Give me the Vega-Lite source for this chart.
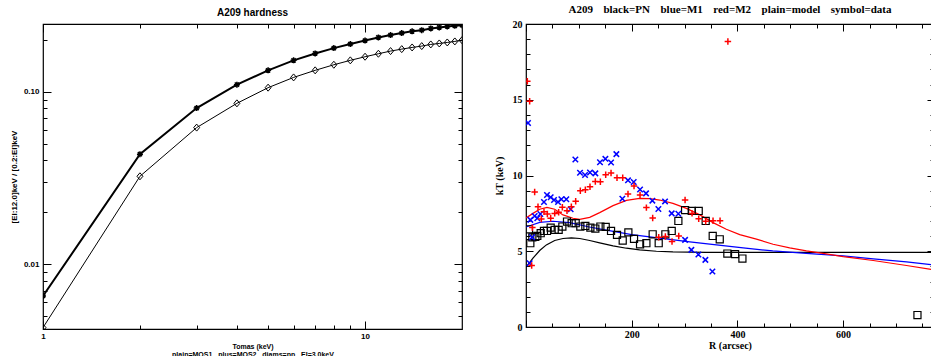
{
  "$schema": "https://vega.github.io/schema/vega-lite/v6.json",
  "background": "white",
  "padding": {"left": 9, "top": 3, "right": 0, "bottom": 0},
  "spacing": 27,
  "config": {
    "view": {"stroke": "black", "strokeWidth": 1.2},
    "axis": {"grid": false, "domain": false, "tickColor": "black", "tickWidth": 1, "labelColor": "black", "titleColor": "black", "labelFlush": false, "labelOverlap": false, "minExtent": 0}
  },
  "datasets": {
    "hard": [
      {"T": 1, "r": 0.00653, "s": "MOS"}, {"T": 2, "r": 0.0434, "s": "MOS"}, {"T": 3, "r": 0.0804, "s": "MOS"}, {"T": 4, "r": 0.1098, "s": "MOS"}, {"T": 5, "r": 0.133, "s": "MOS"},
      {"T": 6, "r": 0.152, "s": "MOS"}, {"T": 7, "r": 0.1667, "s": "MOS"}, {"T": 8, "r": 0.179, "s": "MOS"}, {"T": 9, "r": 0.189, "s": "MOS"}, {"T": 10, "r": 0.198, "s": "MOS"},
      {"T": 11, "r": 0.2065, "s": "MOS"}, {"T": 12, "r": 0.213, "s": "MOS"}, {"T": 13, "r": 0.219, "s": "MOS"}, {"T": 14, "r": 0.224, "s": "MOS"}, {"T": 15, "r": 0.2275, "s": "MOS"},
      {"T": 16, "r": 0.2328, "s": "MOS"}, {"T": 17, "r": 0.2359, "s": "MOS"}, {"T": 18, "r": 0.239, "s": "MOS"}, {"T": 19, "r": 0.241, "s": "MOS"}, {"T": 20, "r": 0.243, "s": "MOS"},
      {"T": 1, "r": 0.00428, "s": "pn"}, {"T": 2, "r": 0.0323, "s": "pn"}, {"T": 3, "r": 0.0619, "s": "pn"}, {"T": 4, "r": 0.0856, "s": "pn"}, {"T": 5, "r": 0.1055, "s": "pn"},
      {"T": 6, "r": 0.121, "s": "pn"}, {"T": 7, "r": 0.133, "s": "pn"}, {"T": 8, "r": 0.1433, "s": "pn"}, {"T": 9, "r": 0.152, "s": "pn"}, {"T": 10, "r": 0.1595, "s": "pn"},
      {"T": 11, "r": 0.166, "s": "pn"}, {"T": 12, "r": 0.172, "s": "pn"}, {"T": 13, "r": 0.1766, "s": "pn"}, {"T": 14, "r": 0.1806, "s": "pn"}, {"T": 15, "r": 0.1839, "s": "pn"},
      {"T": 16, "r": 0.188, "s": "pn"}, {"T": 17, "r": 0.1905, "s": "pn"}, {"T": 18, "r": 0.193, "s": "pn"}, {"T": 19, "r": 0.1957, "s": "pn"}, {"T": 20, "r": 0.199, "s": "pn"}
    ],
    "model": [
      {"R": 0, "kT": 3.95, "d": "PN"}, {"R": 13.2, "kT": 4.54, "d": "PN"}, {"R": 25.9, "kT": 5.05, "d": "PN"}, {"R": 38.5, "kT": 5.42, "d": "PN"}, {"R": 54.3, "kT": 5.71, "d": "PN"},
      {"R": 70, "kT": 5.84, "d": "PN"}, {"R": 85.8, "kT": 5.88, "d": "PN"}, {"R": 101.6, "kT": 5.84, "d": "PN"}, {"R": 120.5, "kT": 5.71, "d": "PN"}, {"R": 139.4, "kT": 5.55, "d": "PN"},
      {"R": 164.7, "kT": 5.35, "d": "PN"}, {"R": 190, "kT": 5.2, "d": "PN"}, {"R": 215, "kT": 5.09, "d": "PN"}, {"R": 246.7, "kT": 5.0, "d": "PN"}, {"R": 278, "kT": 4.96, "d": "PN"},
      {"R": 341, "kT": 4.93, "d": "PN"}, {"R": 400, "kT": 4.92, "d": "PN"}, {"R": 772, "kT": 4.92, "d": "PN"},
      {"R": 0, "kT": 6.6, "d": "M1"}, {"R": 26, "kT": 6.91, "d": "M1"}, {"R": 51, "kT": 6.98, "d": "M1"}, {"R": 82.6, "kT": 6.89, "d": "M1"}, {"R": 120, "kT": 6.6, "d": "M1"},
      {"R": 152, "kT": 6.4, "d": "M1"}, {"R": 200, "kT": 6.1, "d": "M1"}, {"R": 253, "kT": 5.87, "d": "M1"}, {"R": 310, "kT": 5.62, "d": "M1"}, {"R": 335, "kT": 5.52, "d": "M1"},
      {"R": 411, "kT": 5.22, "d": "M1"}, {"R": 467, "kT": 5.02, "d": "M1"}, {"R": 530, "kT": 4.86, "d": "M1"}, {"R": 600, "kT": 4.69, "d": "M1"}, {"R": 657, "kT": 4.5, "d": "M1"},
      {"R": 720, "kT": 4.3, "d": "M1"}, {"R": 772, "kT": 4.1, "d": "M1"},
      {"R": 0, "kT": 7.2, "d": "M2"}, {"R": 13.2, "kT": 7.5, "d": "M2"}, {"R": 25.9, "kT": 7.77, "d": "M2"}, {"R": 39.7, "kT": 7.9, "d": "M2"}, {"R": 54.3, "kT": 7.77, "d": "M2"},
      {"R": 70, "kT": 7.4, "d": "M2"}, {"R": 89, "kT": 7.18, "d": "M2"}, {"R": 101.6, "kT": 7.11, "d": "M2"}, {"R": 120.5, "kT": 7.24, "d": "M2"}, {"R": 139.4, "kT": 7.55, "d": "M2"},
      {"R": 164.7, "kT": 8.01, "d": "M2"}, {"R": 190, "kT": 8.36, "d": "M2"}, {"R": 215, "kT": 8.49, "d": "M2"}, {"R": 234, "kT": 8.47, "d": "M2"}, {"R": 253, "kT": 8.38, "d": "M2"},
      {"R": 278, "kT": 8.16, "d": "M2"}, {"R": 303.5, "kT": 7.83, "d": "M2"}, {"R": 329, "kT": 7.4, "d": "M2"}, {"R": 354, "kT": 6.89, "d": "M2"}, {"R": 379, "kT": 6.45, "d": "M2"},
      {"R": 404.4, "kT": 6.1, "d": "M2"}, {"R": 436, "kT": 5.8, "d": "M2"}, {"R": 467.5, "kT": 5.46, "d": "M2"}, {"R": 499, "kT": 5.22, "d": "M2"}, {"R": 530.6, "kT": 5.02, "d": "M2"},
      {"R": 562, "kT": 4.86, "d": "M2"}, {"R": 600, "kT": 4.65, "d": "M2"}, {"R": 657, "kT": 4.39, "d": "M2"}, {"R": 720, "kT": 4.06, "d": "M2"}, {"R": 772, "kT": 3.77, "d": "M2"}
    ],
    "obs": [
      {"R": 5.7, "kT": 6.45, "d": "PN"}, {"R": 8.2, "kT": 5.53, "d": "PN"}, {"R": 12, "kT": 5.92, "d": "PN"}, {"R": 17.7, "kT": 5.95, "d": "PN"}, {"R": 21.4, "kT": 6.01, "d": "PN"},
      {"R": 27.8, "kT": 6.19, "d": "PN"}, {"R": 34, "kT": 6.34, "d": "PN"}, {"R": 39.7, "kT": 6.34, "d": "PN"}, {"R": 46.7, "kT": 6.56, "d": "PN"}, {"R": 54.3, "kT": 6.41, "d": "PN"},
      {"R": 61.8, "kT": 6.41, "d": "PN"}, {"R": 68.8, "kT": 6.63, "d": "PN"}, {"R": 77.6, "kT": 6.96, "d": "PN"}, {"R": 86.4, "kT": 6.85, "d": "PN"}, {"R": 94, "kT": 6.85, "d": "PN"},
      {"R": 102.8, "kT": 6.63, "d": "PN"}, {"R": 112.3, "kT": 6.67, "d": "PN"}, {"R": 121.8, "kT": 6.56, "d": "PN"}, {"R": 131.2, "kT": 6.5, "d": "PN"}, {"R": 140.7, "kT": 6.63, "d": "PN"},
      {"R": 150.8, "kT": 6.61, "d": "PN"}, {"R": 160.9, "kT": 6.34, "d": "PN"}, {"R": 172.2, "kT": 6.08, "d": "PN"}, {"R": 183, "kT": 5.71, "d": "PN"}, {"R": 193.7, "kT": 6.25, "d": "PN"},
      {"R": 204.4, "kT": 5.82, "d": "PN"}, {"R": 215.8, "kT": 5.46, "d": "PN"}, {"R": 227.8, "kT": 5.53, "d": "PN"}, {"R": 239.7, "kT": 6.12, "d": "PN"}, {"R": 251.1, "kT": 5.53, "d": "PN"},
      {"R": 263.7, "kT": 6.12, "d": "PN"}, {"R": 275.7, "kT": 6.34, "d": "PN"}, {"R": 288.3, "kT": 7.0, "d": "PN"}, {"R": 301, "kT": 7.72, "d": "PN"}, {"R": 313.6, "kT": 7.66, "d": "PN"},
      {"R": 326.8, "kT": 7.66, "d": "PN"}, {"R": 340, "kT": 7.0, "d": "PN"}, {"R": 353.3, "kT": 6.01, "d": "PN"}, {"R": 366.6, "kT": 5.79, "d": "PN"}, {"R": 381, "kT": 4.85, "d": "PN"},
      {"R": 395.6, "kT": 4.81, "d": "PN"}, {"R": 409.5, "kT": 4.52, "d": "PN"}, {"R": 740.7, "kT": 0.79, "d": "PN"},
      {"R": 3.8, "kT": 13.47, "d": "M1"}, {"R": 6.9, "kT": 4.21, "d": "M1"}, {"R": 8.2, "kT": 7.07, "d": "M1"}, {"R": 11.4, "kT": 5.92, "d": "M1"}, {"R": 16.4, "kT": 7.33, "d": "M1"},
      {"R": 21.4, "kT": 7.18, "d": "M1"}, {"R": 27.1, "kT": 7.46, "d": "M1"}, {"R": 34, "kT": 8.25, "d": "M1"}, {"R": 39.7, "kT": 8.71, "d": "M1"}, {"R": 46.7, "kT": 8.56, "d": "M1"},
      {"R": 53, "kT": 8.38, "d": "M1"}, {"R": 60.6, "kT": 8.25, "d": "M1"}, {"R": 66.9, "kT": 8.43, "d": "M1"}, {"R": 76.3, "kT": 8.43, "d": "M1"}, {"R": 84.5, "kT": 7.77, "d": "M1"},
      {"R": 93.4, "kT": 11.06, "d": "M1"}, {"R": 102.2, "kT": 10.18, "d": "M1"}, {"R": 111.7, "kT": 10.03, "d": "M1"}, {"R": 121.1, "kT": 10.2, "d": "M1"}, {"R": 131.2, "kT": 10.14, "d": "M1"},
      {"R": 140, "kT": 10.88, "d": "M1"}, {"R": 150.2, "kT": 11.1, "d": "M1"}, {"R": 160.9, "kT": 10.86, "d": "M1"}, {"R": 171, "kT": 11.41, "d": "M1"}, {"R": 182.3, "kT": 8.47, "d": "M1"},
      {"R": 193, "kT": 9.68, "d": "M1"}, {"R": 203.8, "kT": 9.57, "d": "M1"}, {"R": 215.8, "kT": 9.08, "d": "M1"}, {"R": 227.1, "kT": 8.82, "d": "M1"}, {"R": 239.1, "kT": 8.34, "d": "M1"},
      {"R": 250.5, "kT": 7.79, "d": "M1"}, {"R": 263.1, "kT": 8.29, "d": "M1"}, {"R": 275.7, "kT": 7.5, "d": "M1"}, {"R": 288.3, "kT": 7.48, "d": "M1"}, {"R": 301, "kT": 5.75, "d": "M1"},
      {"R": 312.9, "kT": 5.09, "d": "M1"}, {"R": 326.2, "kT": 4.78, "d": "M1"}, {"R": 339.4, "kT": 4.43, "d": "M1"}, {"R": 352.7, "kT": 3.66, "d": "M1"},
      {"R": 2.5, "kT": 16.22, "d": "M2"}, {"R": 6.9, "kT": 14.9, "d": "M2"}, {"R": 10.7, "kT": 4.06, "d": "M2"}, {"R": 12, "kT": 6.56, "d": "M2"}, {"R": 16.4, "kT": 8.91, "d": "M2"},
      {"R": 22.7, "kT": 7.94, "d": "M2"}, {"R": 29, "kT": 7.13, "d": "M2"}, {"R": 34, "kT": 7.61, "d": "M2"}, {"R": 40.4, "kT": 7.46, "d": "M2"}, {"R": 46.7, "kT": 7.18, "d": "M2"},
      {"R": 54.3, "kT": 7.5, "d": "M2"}, {"R": 61.8, "kT": 7.57, "d": "M2"}, {"R": 68.8, "kT": 7.9, "d": "M2"}, {"R": 77.6, "kT": 7.68, "d": "M2"}, {"R": 85.8, "kT": 7.94, "d": "M2"},
      {"R": 94, "kT": 8.3, "d": "M2"}, {"R": 102.8, "kT": 9.0, "d": "M2"}, {"R": 112.3, "kT": 9.06, "d": "M2"}, {"R": 121.1, "kT": 9.26, "d": "M2"}, {"R": 131.2, "kT": 9.61, "d": "M2"},
      {"R": 140.7, "kT": 9.59, "d": "M2"}, {"R": 150.8, "kT": 10.05, "d": "M2"}, {"R": 160.9, "kT": 10.16, "d": "M2"}, {"R": 172.2, "kT": 9.85, "d": "M2"}, {"R": 183, "kT": 9.85, "d": "M2"},
      {"R": 193, "kT": 8.78, "d": "M2"}, {"R": 204.4, "kT": 9.3, "d": "M2"}, {"R": 215.8, "kT": 8.71, "d": "M2"}, {"R": 227.8, "kT": 7.88, "d": "M2"}, {"R": 239.7, "kT": 7.2, "d": "M2"},
      {"R": 251.1, "kT": 5.92, "d": "M2"}, {"R": 263.7, "kT": 5.97, "d": "M2"}, {"R": 276.3, "kT": 5.64, "d": "M2"}, {"R": 289, "kT": 6.01, "d": "M2"}, {"R": 301, "kT": 8.38, "d": "M2"},
      {"R": 314.2, "kT": 7.5, "d": "M2"}, {"R": 326.8, "kT": 7.15, "d": "M2"}, {"R": 340, "kT": 6.98, "d": "M2"}, {"R": 353.9, "kT": 7.02, "d": "M2"}, {"R": 367.2, "kT": 7.02, "d": "M2"},
      {"R": 382, "kT": 18.85, "d": "M2"}
    ]
  },
  "hconcat": [
    {
      "width": 419,
      "height": 305,
      "title": {"text": "A209 hardness", "font": "Liberation Sans", "fontSize": 10, "fontWeight": "bold", "offset": 4, "color": "black"},
      "resolve": {"axis": {"x": "independent", "y": "independent"}},
      "layer": [
        {
          "data": {"name": "hard"},
          "transform": [{"filter": "datum.s == 'MOS'"}],
          "mark": {"type": "line", "color": "black", "strokeWidth": 2, "clip": true},
          "encoding": {
            "x": {"field": "T", "type": "quantitative", "scale": {"type": "log", "domain": [1, 20], "nice": false},
              "axis": {"orient": "bottom", "values": [1, 10], "format": "d", "ticks": false, "labelPadding": 3, "labelFont": "Liberation Sans", "labelFontSize": 8, "labelFontWeight": "bold",
                "title": ["Tomas (keV)", "plain=MOS1\u00a0\u00a0\u00a0plus=MOS2\u00a0\u00a0\u00a0diams=pn\u00a0\u00a0\u00a0EI=3.0keV"], "titleFont": "Liberation Sans", "titleFontSize": 7, "titleFontWeight": "bold", "titlePadding": 2, "titleLineHeight": 8}},
            "y": {"field": "r", "type": "quantitative", "scale": {"type": "log", "domain": [0.0042, 0.247], "nice": false},
              "axis": {"orient": "left", "values": [0.01, 0.1], "format": ".2f", "ticks": false, "labelPadding": 4, "labelFont": "Liberation Sans", "labelFontSize": 8, "labelFontWeight": "bold",
                "title": "[EI:12.0]keV / [0.2:EI]keV", "titleFont": "Liberation Sans", "titleFontSize": 8, "titleFontWeight": "bold", "titlePadding": 5}}
          }
        },
        {
          "data": {"name": "hard"},
          "transform": [{"filter": "datum.s == 'pn'"}],
          "mark": {"type": "line", "color": "black", "strokeWidth": 1, "clip": true},
          "encoding": {
            "x": {"field": "T", "type": "quantitative", "scale": {"type": "log", "domain": [1, 20], "nice": false},
              "axis": {"orient": "top", "offset": -305, "values": [1, 10], "tickSize": 8, "labels": false, "title": null}},
            "y": {"field": "r", "type": "quantitative", "scale": {"type": "log", "domain": [0.0042, 0.247], "nice": false},
              "axis": {"orient": "right", "offset": -419, "values": [0.01, 0.1], "tickSize": 8, "labels": false, "title": null}}
          }
        },
        {
          "data": {"name": "hard"},
          "transform": [{"filter": "datum.s == 'MOS'"}],
          "mark": {"type": "point", "shape": "M-1,0L1,0M0,-1L0,1M-0.7,-0.7L0.7,0.7M-0.7,0.7L0.7,-0.7", "filled": false, "color": "black", "strokeWidth": 1.5, "size": 36, "opacity": 1, "clip": true},
          "encoding": {
            "x": {"field": "T", "type": "quantitative", "scale": {"type": "log", "domain": [1, 20], "nice": false},
              "axis": {"orient": "top", "offset": -305, "values": [2, 3, 4, 5, 6, 7, 8, 9], "tickSize": 4, "labels": false, "title": null}},
            "y": {"field": "r", "type": "quantitative", "scale": {"type": "log", "domain": [0.0042, 0.247], "nice": false},
              "axis": {"orient": "right", "offset": -419, "values": [0.005, 0.006, 0.007, 0.008, 0.009, 0.02, 0.03, 0.04, 0.05, 0.06, 0.07, 0.08, 0.09, 0.2], "tickSize": 4, "labels": false, "title": null}}
          }
        },
        {
          "data": {"name": "hard"},
          "transform": [{"filter": "datum.s == 'pn'"}],
          "mark": {"type": "point", "shape": "M0,-1L0.85,0L0,1L-0.85,0Z", "filled": false, "color": "black", "strokeWidth": 1, "size": 49, "opacity": 1, "clip": true},
          "encoding": {
            "x": {"field": "T", "type": "quantitative", "scale": {"type": "log", "domain": [1, 20], "nice": false},
              "axis": {"orient": "bottom", "offset": -305, "values": [1, 10], "tickSize": 8, "labels": false, "title": null}},
            "y": {"field": "r", "type": "quantitative", "scale": {"type": "log", "domain": [0.0042, 0.247], "nice": false},
              "axis": {"orient": "left", "offset": -419, "values": [0.01, 0.1], "tickSize": 8, "labels": false, "title": null}}
          }
        },
        {
          "data": {"name": "hard"},
          "mark": {"type": "point", "opacity": 0},
          "encoding": {
            "x": {"field": "T", "type": "quantitative", "scale": {"type": "log", "domain": [1, 20], "nice": false},
              "axis": {"orient": "bottom", "offset": -305, "values": [2, 3, 4, 5, 6, 7, 8, 9], "tickSize": 4, "labels": false, "title": null}},
            "y": {"field": "r", "type": "quantitative", "scale": {"type": "log", "domain": [0.0042, 0.247], "nice": false},
              "axis": {"orient": "left", "offset": -419, "values": [0.005, 0.006, 0.007, 0.008, 0.009, 0.02, 0.03, 0.04, 0.05, 0.06, 0.07, 0.08, 0.09, 0.2], "tickSize": 4, "labels": false, "title": null}}
          }
        }
      ]
    },
    {
      "width": 408,
      "height": 303,
      "title": {"text": "A209\u00a0\u00a0\u00a0\u2009black=PN\u00a0\u00a0\u00a0\u2009blue=M1\u00a0\u00a0\u00a0\u2009red=M2\u00a0\u00a0\u00a0\u2009plain=model\u00a0\u00a0\u00a0\u2009symbol=data", "font": "Liberation Serif", "fontSize": 11, "fontWeight": "bold", "offset": 4, "color": "black"},
      "resolve": {"axis": {"x": "independent", "y": "independent"}},
      "layer": [
        {
          "data": {"name": "model"},
          "transform": [{"filter": "datum.d == 'PN'"}],
          "mark": {"type": "line", "color": "black", "strokeWidth": 1.2, "clip": true},
          "encoding": {
            "x": {"field": "R", "type": "quantitative", "scale": {"domain": [0, 772], "nice": false, "zero": false},
              "axis": {"orient": "bottom", "values": [200, 400, 600], "format": "d", "ticks": false, "labelPadding": 2, "labelFont": "Liberation Serif", "labelFontSize": 10, "labelFontWeight": "bold",
                "title": "R (arcsec)", "titleFont": "Liberation Serif", "titleFontSize": 10, "titleFontWeight": "bold", "titlePadding": 1}},
            "y": {"field": "kT", "type": "quantitative", "scale": {"domain": [0, 20], "nice": false, "zero": false},
              "axis": {"orient": "left", "values": [0, 5, 10, 15, 20], "format": "d", "ticks": false, "labelPadding": 4, "labelFont": "Liberation Serif", "labelFontSize": 10, "labelFontWeight": "bold",
                "title": "kT (keV)", "titleFont": "Liberation Serif", "titleFontSize": 10, "titleFontWeight": "bold", "titlePadding": 8}}
          }
        },
        {
          "data": {"name": "model"},
          "transform": [{"filter": "datum.d == 'M1'"}],
          "mark": {"type": "line", "color": "#0000ff", "strokeWidth": 1.2, "clip": true},
          "encoding": {
            "x": {"field": "R", "type": "quantitative", "scale": {"domain": [0, 772], "nice": false, "zero": false},
              "axis": {"orient": "top", "offset": -303, "values": [0, 200, 400, 600], "tickSize": 7, "labels": false, "title": null}},
            "y": {"field": "kT", "type": "quantitative", "scale": {"domain": [0, 20], "nice": false, "zero": false},
              "axis": {"orient": "right", "offset": -408, "values": [0, 5, 10, 15, 20], "tickSize": 7, "labels": false, "title": null}}
          }
        },
        {
          "data": {"name": "model"},
          "transform": [{"filter": "datum.d == 'M2'"}],
          "mark": {"type": "line", "color": "#ff0000", "strokeWidth": 1.2, "clip": true},
          "encoding": {
            "x": {"field": "R", "type": "quantitative", "scale": {"domain": [0, 772], "nice": false, "zero": false},
              "axis": {"orient": "top", "offset": -303, "values": [50, 100, 150, 250, 300, 350, 450, 500, 550, 650, 700, 750], "tickSize": 4, "labels": false, "title": null}},
            "y": {"field": "kT", "type": "quantitative", "scale": {"domain": [0, 20], "nice": false, "zero": false},
              "axis": {"orient": "right", "offset": -408, "values": [1, 2, 3, 4, 6, 7, 8, 9, 11, 12, 13, 14, 16, 17, 18, 19], "tickSize": 4, "labels": false, "title": null}}
          }
        },
        {
          "data": {"name": "obs"},
          "transform": [{"filter": "datum.d == 'PN'"}],
          "mark": {"type": "point", "shape": "square", "filled": false, "color": "black", "strokeWidth": 1.2, "size": 50, "opacity": 1, "clip": true},
          "encoding": {
            "x": {"field": "R", "type": "quantitative", "scale": {"domain": [0, 772], "nice": false, "zero": false},
              "axis": {"orient": "bottom", "offset": -303, "values": [0, 200, 400, 600], "tickSize": 7, "labels": false, "title": null}},
            "y": {"field": "kT", "type": "quantitative", "scale": {"domain": [0, 20], "nice": false, "zero": false},
              "axis": {"orient": "left", "offset": -408, "values": [0, 5, 10, 15, 20], "tickSize": 7, "labels": false, "title": null}}
          }
        },
        {
          "data": {"name": "obs"},
          "transform": [{"filter": "datum.d == 'M1'"}],
          "mark": {"type": "point", "shape": "M-1,-1L1,1M-1,1L1,-1", "filled": false, "color": "#0000ff", "strokeWidth": 1.5, "size": 30, "opacity": 1, "clip": true},
          "encoding": {
            "x": {"field": "R", "type": "quantitative", "scale": {"domain": [0, 772], "nice": false, "zero": false},
              "axis": {"orient": "bottom", "offset": -303, "values": [50, 100, 150, 250, 300, 350, 450, 500, 550, 650, 700, 750], "tickSize": 4, "labels": false, "title": null}},
            "y": {"field": "kT", "type": "quantitative", "scale": {"domain": [0, 20], "nice": false, "zero": false},
              "axis": {"orient": "left", "offset": -408, "values": [1, 2, 3, 4, 6, 7, 8, 9, 11, 12, 13, 14, 16, 17, 18, 19], "tickSize": 4, "labels": false, "title": null}}
          }
        },
        {
          "data": {"name": "obs"},
          "transform": [{"filter": "datum.d == 'M2'"}],
          "mark": {"type": "point", "shape": "M-1,0L1,0M0,-1L0,1", "filled": false, "color": "#ff0000", "strokeWidth": 1.5, "size": 42, "opacity": 1, "clip": true},
          "encoding": {
            "x": {"field": "R", "type": "quantitative", "scale": {"domain": [0, 772], "nice": false, "zero": false}, "axis": null},
            "y": {"field": "kT", "type": "quantitative", "scale": {"domain": [0, 20], "nice": false, "zero": false}, "axis": null}
          }
        }
      ]
    }
  ]
}
